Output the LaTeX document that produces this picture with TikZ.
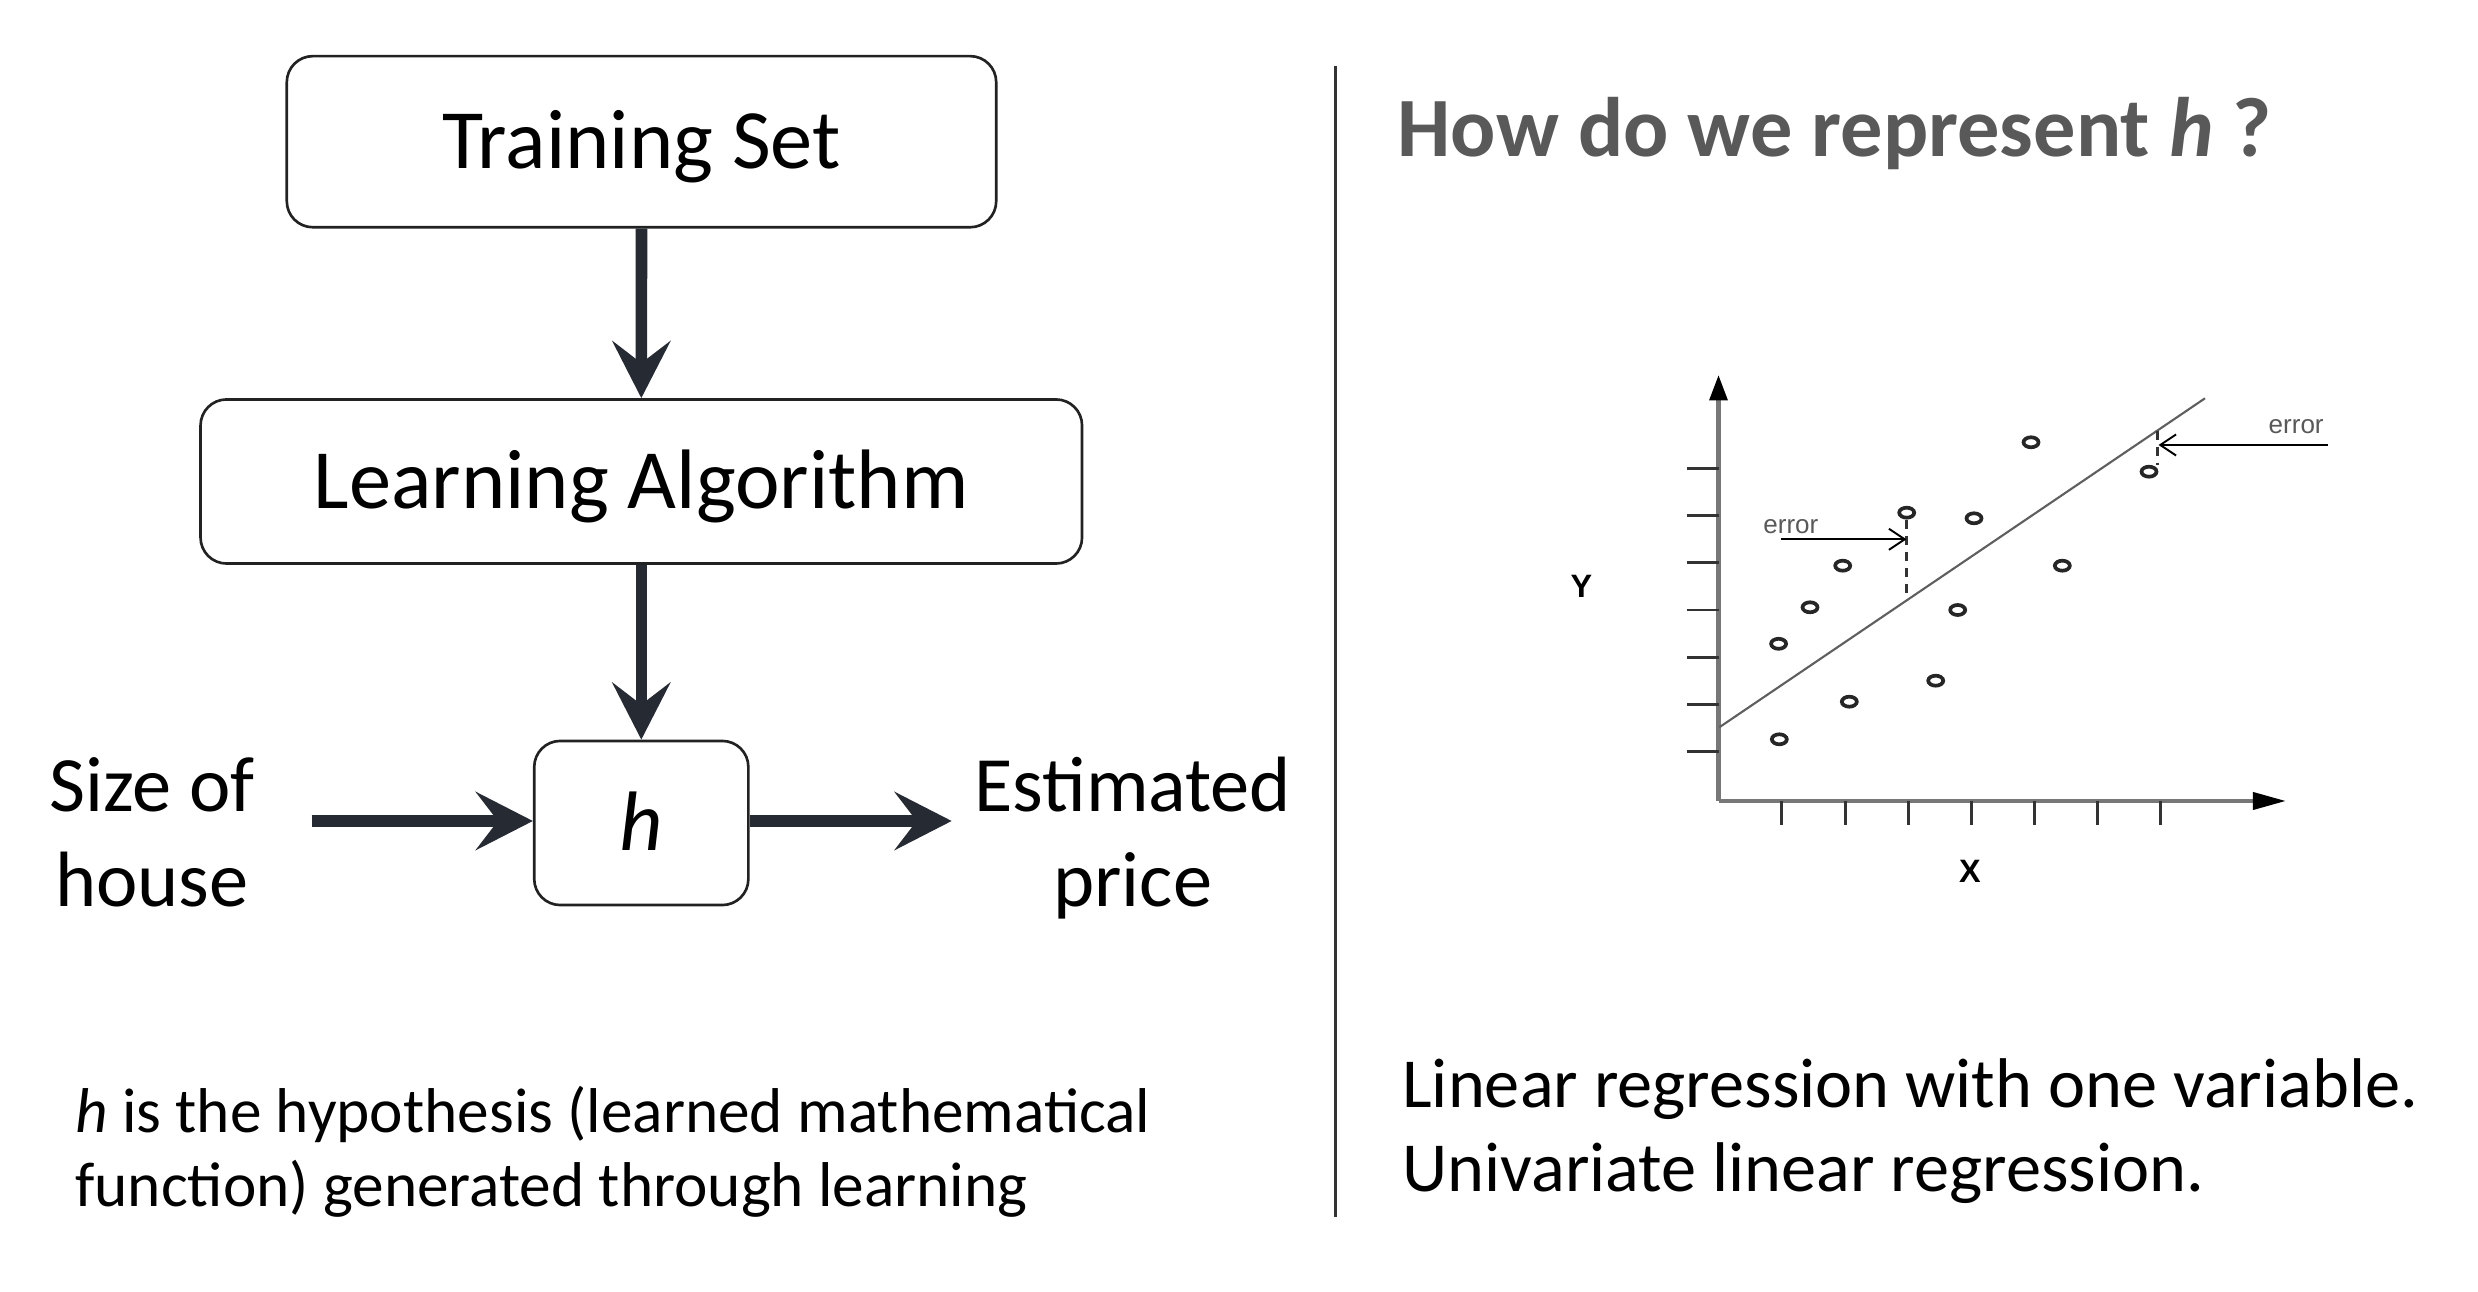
\documentclass[tikz,border=0pt]{standalone}
\usepackage{fontspec}
\setmainfont{Carlito}
\newfontfamily\arialf{Liberation Sans}
\usetikzlibrary{arrows.meta,shapes.geometric}
\definecolor{ink}{HTML}{252A33}
\definecolor{boxline}{HTML}{222222}
\definecolor{titlegray}{HTML}{595959}
\definecolor{axisgray}{HTML}{777777}
\definecolor{reggray}{HTML}{5F5F5F}
\definecolor{chartdark}{HTML}{333333}
\begin{document}
\begin{tikzpicture}[x=0.01cm,y=-0.01cm,
  box/.style={draw=boxline, line width=0.75pt, rounded corners=0.26cm,
    font=\fontsize{24}{28}\selectfont, text height=15.5pt, text depth=0pt, inner sep=0pt},
  flow/.style={draw=ink, line width=3.3pt, -{Stealth[length=0.57cm,width=0.58cm,inset=0.22cm]}},
  biglbl/.style={inner sep=0pt, font=\fontsize{22.3}{26}\selectfont, anchor=base},
  note/.style={inner sep=0pt, font=\fontsize{18}{22}\selectfont, anchor=base west},
  rnote/.style={inner sep=0pt, font=\fontsize{20}{24}\selectfont, anchor=base west},
  titlestyle/.style={inner sep=0pt, font=\fontsize{24}{28}\selectfont\bfseries, text=titlegray, anchor=base west},
  axisline/.style={draw=axisgray, line width=1.2pt},
  tick/.style={draw=chartdark, line width=0.8pt},
  regline/.style={draw=reggray, line width=0.6pt},
  datapt/.style={ellipse, draw=black!85, line width=1.05pt, minimum width=0.15cm, minimum height=0.1cm, inner sep=0pt},
  errdash/.style={draw=chartdark, line width=0.8pt, dash pattern=on 2.6pt off 2pt},
  errarrow/.style={draw=black, line width=0.55pt, -{Straight Barb[length=4.5pt,width=6pt]}},
  errlbl/.style={inner sep=0pt, font=\arialf\fontsize{7.4}{8}\selectfont, text=black!65, anchor=base west},
  axlbl/.style={inner sep=0pt, font=\arialf\bfseries\fontsize{9.2}{10}\selectfont, text=black}
]
\path[use as bounding box, fill=white] (0,0) rectangle (2478,1292);

% ---------- left flow diagram ----------
\node[box, minimum width=7.09cm, minimum height=1.71cm] (ts) at (641.5,141.7) {Training Set};
\node[box, minimum width=8.81cm, minimum height=1.64cm] (la) at (641.3,481.5) {Learning Algorithm};
\node[box, minimum width=2.14cm, minimum height=1.64cm] (hb) at (641.3,823) {\itshape h};

\draw[flow] (ts.south) -- (la.north);
\draw[flow] (la.south) -- (hb.north);

\coordinate (inpt) at (311.7,821);
\coordinate (outpt) at (951.7,821);
\draw[flow] (inpt) -- (inpt -| hb.west);
\draw[flow] (outpt -| hb.east) -- (outpt);

\node[biglbl] (size1) at (152,811.7) {Size of};
\node[biglbl] (size2) at (152,906.7) {house};
\node[biglbl] (est1) at (1132.7,811.7) {Estimated};
\node[biglbl] (est2) at (1132.7,906.7) {price};

\node[note] (hnote1) at (74.6,1133) {\textit{h} is the hypothesis (learned mathematical};
\node[note] (hnote2) at (74.6,1207) {function) generated through learning};

% ---------- divider ----------
\coordinate (divtop) at (1335.5,66);
\coordinate (divbot) at (1335.5,1217);
\draw[draw=chartdark, line width=0.8pt] (divtop) -- (divbot);

% ---------- right side ----------
\node[titlestyle] (title) at (1397,157) {How do we represent \textit{h} ?};
\node[rnote] (lr1) at (1401.7,1107.7) {Linear regression with one variable.};
\node[rnote] (lr2) at (1401.7,1192) {Univariate linear regression.};

% chart axes
\coordinate (orig) at (1718.5,801);
\coordinate (ytop) at (1718.5,375);
\coordinate (xend) at (2286,801);
\draw[axisline, -{Triangle[length=7.2pt,width=5pt,color=black]}] (orig) -- (ytop);
\draw[axisline, -{Triangle[length=9.4pt,width=4.8pt,color=black]}] (orig) -- (xend);

\foreach \yy in {468.7,515.7,562.7,610,657.3,704.3,751.7}
  \draw[tick] (1686.7,\yy) -- (1718.5,\yy);
\foreach \xx in {1781.5,1845.1,1908.2,1971.3,2034.4,2097.4,2160.5}
  \draw[tick] (\xx,801) -- (\xx,825);

\node[axlbl] (ylab) at (1581.5,586) {Y};
\node[axlbl] (xlab) at (1970,871.5) {X};

% regression line
\coordinate (r0) at (1719.3,727.3);
\coordinate (r1) at (2205,398.3);
\draw[regline] (r0) -- (r1);

% data points
\node[datapt] (p1) at (2031,442.3) {};
\node[datapt] (p2) at (2149,471.7) {};
\node[datapt] (p3) at (1906.7,512.7) {};
\node[datapt] (p4) at (1974,518.3) {};
\node[datapt] (p5) at (1842.7,565.7) {};
\node[datapt] (p6) at (2062.3,565.7) {};
\node[datapt] (p7) at (1810,607.3) {};
\node[datapt] (p8) at (1957.7,610) {};
\node[datapt] (p9) at (1778.6,643.8) {};
\node[datapt] (p10) at (1935.7,680.7) {};
\node[datapt] (p11) at (1849.3,701.7) {};
\node[datapt] (p12) at (1779.3,739.3) {};

% errors
\coordinate (e1) at (1906.7,600.4);
\draw[errdash] (p3.south) -- (e1);
\coordinate (e2) at (2157.3,430.6);
\draw[errdash] (e2) -- (e2 |- p2.north);

\coordinate (ea1s) at (1780.7,539.3);
\coordinate (ea1e) at (1906.5,539.3);
\draw[errarrow] (ea1s) -- (ea1e);
\node[errlbl] (err1) at (1762.7,534) {error};

\coordinate (ea2s) at (2328,445);
\coordinate (ea2e) at (2158.5,445);
\draw[errarrow] (ea2s) -- (ea2e);
\node[errlbl] (err2) at (2268,433.3) {error};
\end{tikzpicture}
\end{document}
